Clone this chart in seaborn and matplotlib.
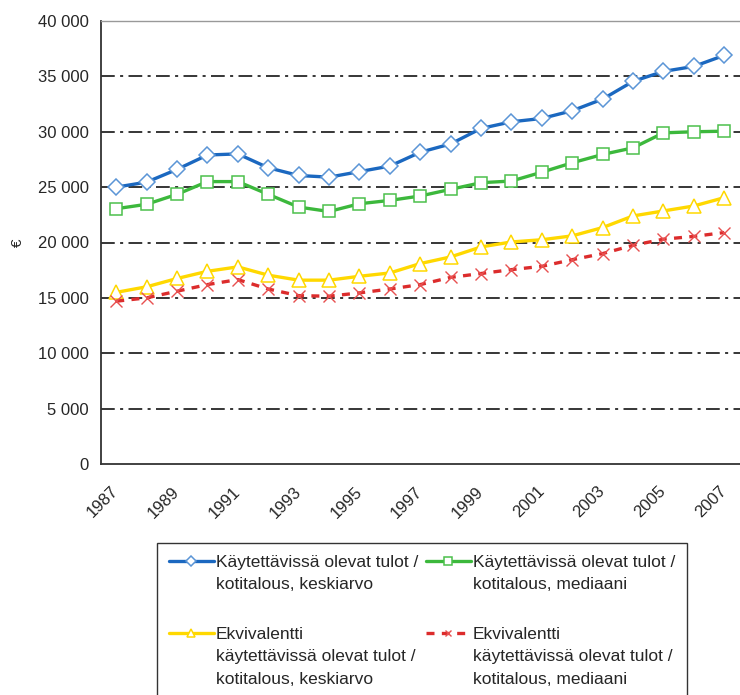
import numpy as np
import pandas as pd
import matplotlib
matplotlib.use('Agg')
import matplotlib.pyplot as plt
import matplotlib.transforms as mtransforms
from matplotlib.ticker import FuncFormatter, MultipleLocator
import seaborn as sns

# data
years = list(range(1987, 2008))
keskiarvo = [25000, 25450, 26600, 27900, 28000, 26750, 26050, 25900, 26400, 26900, 28150,
             28900, 30300, 30900, 31200, 31900, 32950, 34550, 35450, 35900, 36900]
mediaani = [23050, 23450, 24350, 25500, 25500, 24350, 23200, 22800, 23500, 23800, 24200,
            24800, 25400, 25550, 26350, 27200, 27950, 28550, 29900, 30000, 30050]
ekv_keskiarvo = [15500, 16000, 16750, 17400, 17800, 17050, 16600, 16600, 16950, 17250, 18100,
                 18700, 19600, 20050, 20250, 20600, 21350, 22400, 22850, 23300, 24050]
ekv_mediaani = [14700, 15000, 15600, 16200, 16650, 15800, 15200, 15150, 15450, 15800, 16200,
                16850, 17200, 17550, 17850, 18450, 19000, 19750, 20300, 20550, 20900]

labels = ['Käytettävissä olevat tulot /\nkotitalous, keskiarvo\n ',
          'Käytettävissä olevat tulot /\nkotitalous, mediaani\n ',
          'Ekvivalentti\nkäytettävissä olevat tulot /\nkotitalous, keskiarvo',
          'Ekvivalentti\nkäytettävissä olevat tulot /\nkotitalous, mediaani']

sns.set_style('white')
plt.rcParams['font.family'] = ['Liberation Sans', 'DejaVu Sans']
plt.rcParams['font.size'] = 12

fig = plt.figure(figsize=(7.4, 6.95), dpi=100)
ax = fig.add_axes([101 / 740, 231 / 695, 638.5 / 740, 443 / 695])

df = pd.DataFrame({'year': years, 'k': keskiarvo, 'm': mediaani,
                   'ek': ekv_keskiarvo, 'em': ekv_mediaani})

# one call per series, keeps marker styling simple
sns.lineplot(data=df, x='year', y='k', ax=ax, color='#1b68c0', lw=2.4, marker='D',
             markersize=8, markerfacecolor='white', markeredgecolor='#5b95d6', markeredgewidth=1.1,
             label=labels[0])
sns.lineplot(data=df, x='year', y='ek', ax=ax, color='#ffd800', lw=2.4, marker='^',
             markersize=10, markerfacecolor='white', markeredgecolor='#ffd800', markeredgewidth=1.1,
             label=labels[2])
sns.lineplot(data=df, x='year', y='m', ax=ax, color='#3cb83c', lw=2.4, marker='s',
             markersize=9, markerfacecolor='white', markeredgecolor='#4cc04c', markeredgewidth=1.1,
             label=labels[1])
sns.lineplot(data=df, x='year', y='em', ax=ax, color='#dc2c2c', lw=2.4, marker='x',
             markersize=8, markeredgecolor='#e85050', markeredgewidth=1.0,
             dashes=(2.4, 2.2), label=labels[3])

ax.set_xlim(1986.5, 2007.5)
ax.set_ylim(0, 40000)

# y axis
ax.yaxis.set_major_locator(MultipleLocator(5000))
ax.yaxis.set_major_formatter(FuncFormatter(lambda v, p: f'{int(v):,}'.replace(',', ' ')))
ax.set_ylabel('€', rotation=90, labelpad=9, fontsize=11)
for v in range(5000, 40000, 5000):
    ax.axhline(v, color='black', lw=1.1, linestyle=(0, (9, 3.5, 2, 3.5)), zorder=0)

# x axis: ticks between categories, labels every other year
ax.set_xticks(np.arange(1986.5, 2008, 1), minor=True)
ax.set_xticks(years[::2])
ax.set_xticklabels([str(y) for y in years[::2]], rotation=45, ha='right', va='center',
                   rotation_mode='anchor')
shift = mtransforms.ScaledTranslation(-9 / 100, 0, fig.dpi_scale_trans)
for t in ax.get_xticklabels():
    t.set_transform(t.get_transform() + shift)
ax.tick_params(axis='x', which='major', length=0, pad=18)
ax.tick_params(axis='x', which='minor', length=4, width=1, color='#333333', direction='out')
ax.tick_params(axis='y', length=4, width=1, color='#333333', direction='out', pad=5)
ax.tick_params(labelsize=12)

for s in ['left', 'bottom']:
    ax.spines[s].set_color('#333333')
    ax.spines[s].set_linewidth(1.3)
ax.spines['top'].set_color('#999999')
ax.spines['top'].set_linewidth(1)
ax.spines['right'].set_visible(False)
ax.set_xlabel('')

handles, labs = ax.get_legend_handles_labels()
ax.legend_.remove()
leg = fig.legend(handles, labs, ncol=2, loc='upper left',
                 bbox_to_anchor=(157 / 740, 1 - 543 / 695), borderaxespad=0,
                 frameon=True, fancybox=False,
                 edgecolor='black', fontsize=12.5, handlelength=2.6, handletextpad=0.1,
                 columnspacing=0.45, labelspacing=0.75, borderpad=0.68, markerscale=0.6)
leg.get_frame().set_linewidth(1.0)
for t in leg.get_texts():
    t.set_linespacing(1.6)
# put the handle next to the first line of each label
for col in leg._legend_handle_box.get_children():
    for row in col.get_children():
        row.align = 'top'

plt.savefig('out.png', dpi=100)
